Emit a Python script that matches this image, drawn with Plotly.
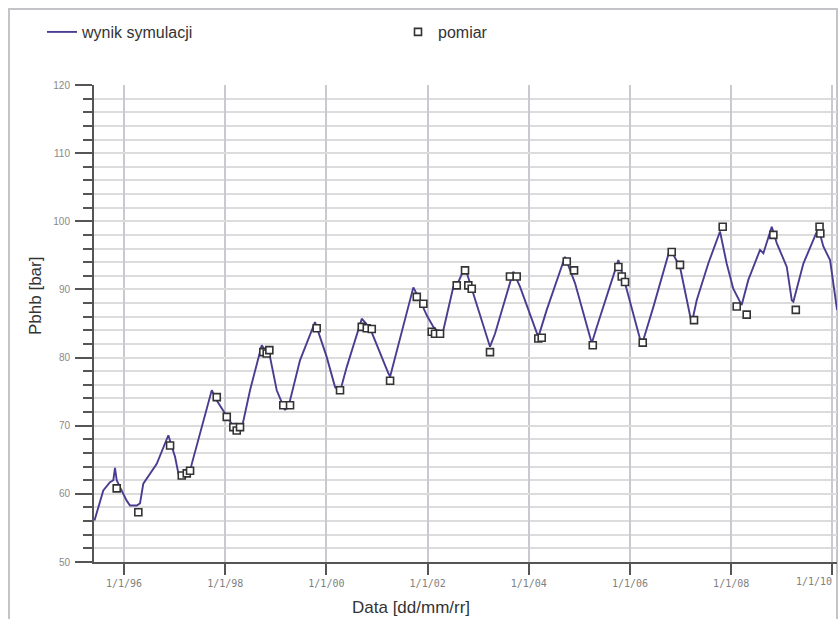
import pandas as pd
import plotly.graph_objects as go

# ---- data (decimal years, bar) ----
sim_year = [1995.417, 1995.526, 1995.591, 1995.723, 1995.789, 1995.822, 1995.856, 1995.921,
            1996.053, 1996.119, 1996.251, 1996.316, 1996.381, 1996.646, 1996.875, 1997.008,
            1997.073, 1997.172, 1997.304, 1997.338, 1997.502, 1997.733, 1997.832, 1998.030,
            1998.227, 1998.326, 1998.490, 1998.721, 1998.885, 1999.018, 1999.182, 1999.281,
            1999.478, 1999.775, 1999.874, 2000.006, 2000.170, 2000.269, 2000.401, 2000.698,
            2000.862, 2001.059, 2001.223, 2001.257, 2001.455, 2001.717, 2001.850, 2001.982,
            2002.113, 2002.245, 2002.310, 2002.508, 2002.601, 2002.739, 2002.838, 2003.233,
            2003.332, 2003.694, 2003.826, 2004.024, 2004.188, 2004.354, 2004.715, 2004.913,
            2005.243, 2005.342, 2005.769, 2005.901, 2006.231, 2006.460, 2006.791, 2006.988,
            2007.219, 2007.318, 2007.547, 2007.779, 2007.911, 2008.041, 2008.207, 2008.338,
            2008.569, 2008.635, 2008.800, 2008.899, 2009.097, 2009.196, 2009.227, 2009.425,
            2009.721, 2009.820, 2009.953, 2010.091]
sim_p = [56.1, 59.1, 60.5, 61.7, 62.0, 63.8, 62.0, 61.0,
         59.0, 58.3, 58.3, 58.6, 61.5, 64.4, 68.6, 65.4,
         63.0, 62.5, 63.2, 64.4, 68.8, 75.2, 73.7, 71.3,
         69.1, 69.6, 75.2, 81.8, 80.1, 75.2, 72.3, 73.7,
         79.6, 85.2, 83.0, 80.1, 75.7, 75.0, 78.6, 85.7,
         84.3, 80.6, 77.7, 77.2, 83.0, 90.3, 88.4, 86.2,
         84.5, 83.5, 84.0, 90.4, 91.0, 93.3, 90.9, 81.6,
         83.5, 92.6, 90.4, 86.5, 83.0, 87.0, 94.8, 90.9,
         82.1, 84.5, 94.3, 90.9, 81.8, 87.4, 96.0, 93.3,
         85.0, 88.4, 93.8, 98.5, 93.8, 90.1, 87.7, 91.4,
         95.8, 95.3, 99.2, 96.8, 93.3, 88.4, 88.2, 93.8,
         99.0, 96.3, 94.3, 87.0]

meas_year = [1995.856, 1996.283, 1996.909, 1997.140, 1997.239, 1997.304, 1997.832, 1998.030,
             1998.160, 1998.227, 1998.292, 1998.753, 1998.820, 1998.872, 1999.148, 1999.281,
             1999.808, 2000.269, 2000.698, 2000.797, 2000.895, 2001.257, 2001.785, 2001.915,
             2002.081, 2002.146, 2002.245, 2002.575, 2002.739, 2002.804, 2002.872, 2003.233,
             2003.628, 2003.761, 2004.188, 2004.255, 2004.749, 2004.893, 2005.263, 2005.769,
             2005.836, 2005.901, 2006.251, 2006.824, 2006.988, 2007.265, 2007.832, 2008.109,
             2008.306, 2008.832, 2009.275, 2009.745, 2009.760]
meas_p = [60.8, 57.3, 67.1, 62.7, 63.0, 63.4, 74.2, 71.3,
          69.8, 69.3, 69.8, 80.8, 80.6, 81.1, 73.0, 73.0,
          84.3, 75.2, 84.5, 84.3, 84.2, 76.6, 88.9, 87.9,
          83.8, 83.5, 83.5, 90.6, 92.8, 90.6, 90.1, 80.8,
          91.9, 91.9, 82.8, 82.9, 94.1, 92.8, 81.8, 93.3,
          91.9, 91.1, 82.2, 95.5, 93.6, 85.5, 99.2, 87.5,
          86.3, 98.0, 87.0, 99.2, 98.2]

tick_years = [1996, 1998, 2000, 2002, 2004, 2006, 2008, 2010]
tick_text = ["1/1/96", "1/1/98", "1/1/00", "1/1/02", "1/1/04", "1/1/06", "1/1/08", "1/1/10"]
x_range_years = [1995.407, 2010.09]


def to_date(y):
    yr = int(y)
    start = pd.Timestamp(year=yr, month=1, day=1)
    end = pd.Timestamp(year=yr + 1, month=1, day=1)
    return start + (end - start) * (y - yr)


sim_x = [to_date(v) for v in sim_year]
meas_x = [to_date(v) for v in meas_year]
tick_vals = [pd.Timestamp(year=v, month=1, day=1) for v in tick_years]

W, H = 839, 619
ML, MR, MT, MB = 94, 2, 85, 57
PW, PH = W - ML - MR, H - MT - MB


def px(xp):
    return (xp - ML) / PW


def py(yp):
    return (H - MB - yp) / PH


fig = go.Figure()
fig.add_trace(go.Scatter(
    x=sim_x, y=sim_p, mode="lines", name="wynik symulacji",
    line=dict(color="#4a3d91", width=1.9), legend="legend", showlegend=True))
fig.add_trace(go.Scatter(
    x=meas_x, y=meas_p, mode="markers", name="pomiar",
    marker=dict(symbol="square", size=7, color="white",
                line=dict(color="#333333", width=1.6)), legend="legend2", showlegend=True))

tickfont_x = dict(family="DejaVu Sans Mono, monospace", size=10, color="#808080")
gridc = "#dcdcdc"
fig.update_layout(
    width=W, height=H,
    showlegend=True,
    margin=dict(l=ML, r=MR, t=MT, b=MB),
    paper_bgcolor="white", plot_bgcolor="white",
    font=dict(family="Liberation Sans, Arial, sans-serif", color="#333333"),
    legend=dict(x=px(42), y=py(32), xanchor="left", yanchor="middle", visible=True,
                bgcolor="rgba(0,0,0,0)", font=dict(size=16, color="#333333")),
    legend2=dict(x=px(398), y=py(32), xanchor="left", yanchor="middle", visible=True,
                 bgcolor="rgba(0,0,0,0)", font=dict(size=16, color="#333333")),
    xaxis=dict(
        type="date",
        range=[to_date(x_range_years[0]), to_date(x_range_years[1])],
        tickvals=tick_vals, ticktext=tick_text[:-1] + [""],
        showgrid=True, gridcolor="#c9c9cf", gridwidth=1.5,
        ticks="outside", ticklen=11, tickwidth=2, tickcolor="#555555",
        showline=True, linecolor="#555555", linewidth=2,
        tickfont=tickfont_x,
        zeroline=False,
    ),
    yaxis=dict(
        range=[50, 120], dtick=10, tick0=50,
        showgrid=True, gridcolor=gridc, gridwidth=1.5,
        ticks="outside", ticklen=17, tickwidth=2, tickcolor="#555555",
        showline=True, linecolor="#555555", linewidth=2,
        tickfont=dict(size=10, color="#888888"),
        ticklabelstandoff=3,
        minor=dict(dtick=2, tick0=50, ticks="outside", ticklen=9, tickwidth=1.5,
                   tickcolor="#555555", showgrid=True, gridcolor=gridc, gridwidth=1.5),
        zeroline=False,
    ),
    shapes=[dict(type="rect", xref="paper", yref="paper",
                 x0=px(9), x1=px(837), y0=py(640), y1=py(9),
                 line=dict(color="#c4c4c8", width=2), layer="below")],
    annotations=[
        dict(text="Pbhb [bar]", xref="paper", yref="paper", x=px(35), y=py(296),
             showarrow=False, textangle=-90, font=dict(size=17, color="#333333"),
             xanchor="center", yanchor="middle"),
        dict(text="Data [dd/mm/rr]", xref="paper", yref="paper", x=px(411), y=py(607),
             showarrow=False, font=dict(size=17, color="#333333"),
             xanchor="center", yanchor="middle"),
        dict(text=tick_text[-1], xref="x", yref="paper", x=tick_vals[-1], y=py(581),
             showarrow=False, font=tickfont_x, xanchor="right", yanchor="middle",
             xshift=2),
    ],
)

fig.write_html("out.html")
